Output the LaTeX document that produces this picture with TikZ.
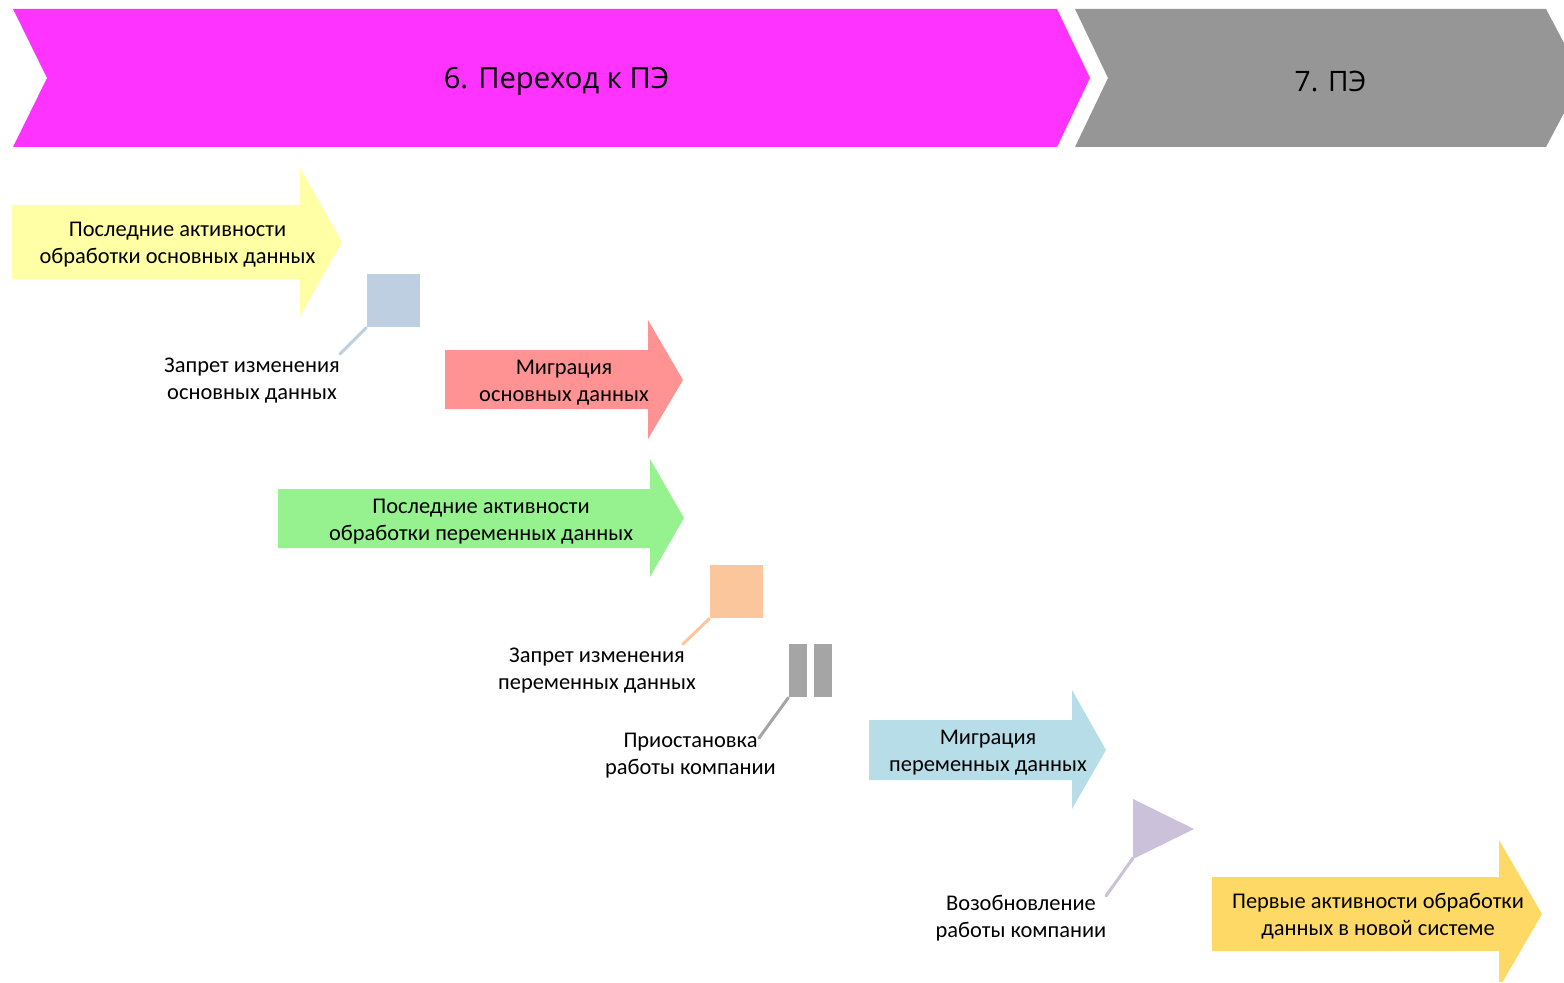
\documentclass[tikz,border=0pt]{standalone}
\usepackage{fontspec}
\setmainfont{Carlito}
\newfontfamily\headfont{Open Sans}
\definecolor{phasesix}{HTML}{FF33FF}
\definecolor{phaseseven}{HTML}{969696}
\definecolor{lastmain}{HTML}{FFFFA6}
\definecolor{migmain}{HTML}{FF9393}
\definecolor{lastvar}{HTML}{95F28F}
\definecolor{migvar}{HTML}{B7DDE8}
\definecolor{firstnew}{HTML}{FFD966}
\definecolor{lockmain}{HTML}{BFCFE2}
\definecolor{lockvar}{HTML}{FBC69B}
\definecolor{pausecol}{HTML}{A5A5A5}
\definecolor{resumecol}{HTML}{CCC1DA}
\tikzset{
    lbl/.style={align=center,inner sep=0pt,font=\fontsize{6.38}{7.68}\selectfont},
    headlbl/.style={inner sep=0pt,font=\headfont\fontsize{8}{10}\selectfont},
    marksq/.style={inner sep=0pt,minimum size=0.53cm},
    pausebar/.style={inner sep=0pt,minimum width=0.18cm,minimum height=0.53cm,fill=pausecol},
    leader/.style={line width=0.03cm,line cap=round}
}
\begin{document}
\begin{tikzpicture}[x=0.01cm,y=-0.01cm]
    \useasboundingbox (0,0) rectangle (1564,982);

    % phases
    \fill[phasesix] (13,9) -- (1057,9) -- (1090,78) -- (1057,147) -- (13,147) -- (47,78) -- cycle;
    \fill[phaseseven] (1075,9) -- (1546,9) -- (1564,43) -- (1564,113) -- (1546,147) -- (1075,147) -- (1108,78) -- cycle;
    \node[headlbl,font=\headfont\fontsize{8.3}{10}\selectfont] (six) at (556.5,81) {6. Переход к ПЭ};
    \node[headlbl] (seven) at (1330.5,82) {7. ПЭ};

    % arrows
    \fill[lastmain] (12,205) -- (300,205) -- (300,168) -- (342,242) -- (300,316) -- (300,279) -- (12,279) -- cycle;
    \fill[migmain] (445,350) -- (648,350) -- (648,320) -- (683,380) -- (648,439) -- (648,409) -- (445,409) -- cycle;
    \fill[lastvar] (278,489) -- (650,489) -- (650,459) -- (684,518) -- (650,577) -- (650,548) -- (278,548) -- cycle;
    \fill[migvar] (869,720) -- (1072,720) -- (1072,690) -- (1106,750) -- (1072,809) -- (1072,780) -- (869,780) -- cycle;
    \fill[firstnew] (1212,877) -- (1499,877) -- (1499,840) -- (1542,914) -- (1502.5,982) -- (1499,982) -- (1499,951) -- (1212,951) -- cycle;

    \node[lbl] (lastmaintxt) at (177.5,245) {Последние активности\\обработки основных данных};
    \node[lbl] (migmaintxt) at (564,383) {Миграция\\основных данных};
    \node[lbl] (lastvartxt) at (481,522) {Последние активности\\обработки переменных данных};
    \node[lbl] (migvartxt) at (988,753) {Миграция\\переменных данных};
    \node[lbl] (firstnewtxt) at (1378,916) {Первые активности обработки\\данных в новой системе};

    % milestones
    \node[marksq,fill=lockmain] (lockm) at (393.5,300.5) {};
    \node[marksq,fill=lockvar] (lockv) at (736.5,591.5) {};
    \node[pausebar] (pausea) at (798,670.5) {};
    \node[pausebar] (pauseb) at (823,670.5) {};
    \fill[resumecol] (1133,799) -- (1194,829) -- (1133,859) -- cycle;
    \coordinate (resume) at (1133,858);

    \node[lbl] (lockmtxt) at (252,381) {Запрет изменения\\основных данных};
    \node[lbl] (lockvtxt) at (597,671) {Запрет изменения\\переменных данных};
    \node[lbl] (pausetxt) at (690.5,756) {Приостановка\\работы компании};
    \node[lbl] (resumetxt) at (1021,918) {Возобновление\\работы компании};

    \coordinate (lockmend) at (340,354);
    \coordinate (lockvend) at (683,644);
    \coordinate (pauseend) at (759,738);
    \coordinate (resumeend) at (1106,896);

    \draw[leader,draw=lockmain] (lockm.south west) -- (lockmend);
    \draw[leader,draw=lockvar] (lockv.south west) -- (lockvend);
    \draw[leader,draw=pausecol] (pausea.south west) -- (pauseend);
    \draw[leader,draw=resumecol] (resume) -- (resumeend);
\end{tikzpicture}
\end{document}
